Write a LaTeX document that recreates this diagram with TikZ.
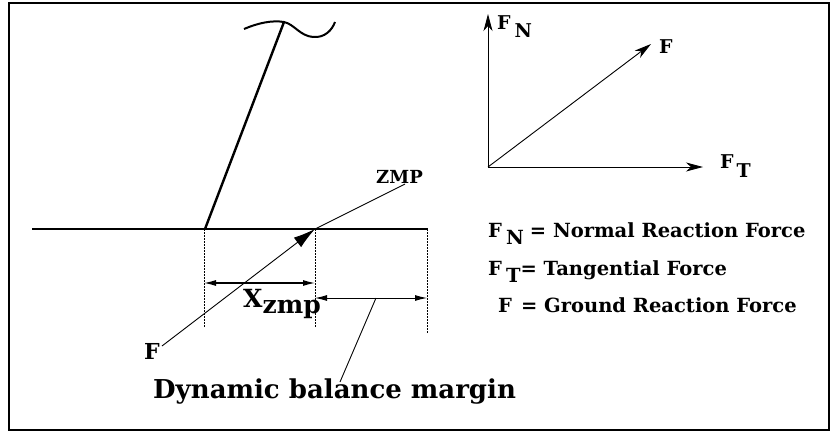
\documentclass[tikz,border=0pt]{standalone}
\usepackage{fontspec}
\setmainfont{DejaVu Serif}
\usetikzlibrary{arrows.meta}
\begin{document}
\begin{tikzpicture}[x=1pt,y=-1pt,
  thick line/.style={line width=2.4pt},
  thin line/.style={line width=0.9pt},
  dotline/.style={line width=0.9pt, dash pattern=on 1.5pt off 1.5pt},
  lbl/.style={inner sep=0pt, font=\bfseries},
  vec/.style={thin line, -{Stealth[length=17pt,width=9pt,inset=5pt]}},
  dim/.style={line width=1.2pt, {Latex[length=12pt,width=6pt]}-{Latex[length=12pt,width=6pt]}}]
\useasboundingbox (0,0) rectangle (832,436);
\draw[line width=2pt] (9,3) rectangle (829,430);
% ground and leg
\coordinate (gL) at (32,229);
\coordinate (gR) at (428,229);
\coordinate (heel) at (205,229);
\coordinate (hip) at (284,22);
\coordinate (zmp) at (315,229);
\draw[thick line] (gL) -- (gR);
\draw[thick line] (heel) -- (hip);
\draw[line width=2pt] (244,29) .. controls (258,23) and (272,20) .. (hip) .. controls (294,24) and (300,36) .. (313,37) .. controls (325,38) and (332,30) .. (335,22);
% dotted verticals
\coordinate (d1) at (204,327);
\coordinate (d2) at (315,327);
\coordinate (d3) at (427,333);
\draw[dotline] (204,229) -- (d1);
\draw[dotline] (zmp) -- (d2);
\draw[dotline] (427,229) -- (d3);
% dimension arrows
\coordinate (x1) at (204,283);
\coordinate (x2) at (315,283);
\draw[dim] (x1) -- (x2);
\coordinate (m1) at (315,298);
\coordinate (m2) at (427,298);
\coordinate (mm) at (376,298);
\draw[line width=0.9pt, {Latex[length=12pt,width=6pt]}-{Latex[length=12pt,width=6pt]}] (m1) -- (m2);
% force arrow
\node[lbl, font=\bfseries\fontsize{22}{22}\selectfont] (Flab) at (152,351) {F};
\coordinate (Fst) at (162,346);
\draw[thin line, -{Latex[length=22pt,width=12pt]}] (Fst) -- (zmp);
\node[lbl, font=\bfseries\fontsize{18}{18}\selectfont, anchor=base west] (zmplab) at (376,183) {ZMP};
\coordinate (zmpend) at (405,184);
\draw[thin line] (zmp) -- (zmpend);
% labels
\node[lbl, font=\bfseries\fontsize{25}{25}\selectfont, anchor=base west] (xz) at (243,307) {X\raisebox{-6pt}{zmp}};
\node[lbl, font=\bfseries\fontsize{26}{26}\selectfont, anchor=base west] (dbm) at (153,398) {Dynamic balance margin};
\coordinate (dbmtip) at (340,382);
\draw[thin line] (mm) -- (dbmtip);
% right diagram
\coordinate (O) at (488,167);
\coordinate (FNt) at (488,14);
\coordinate (Ft) at (651,44);
\coordinate (FTt) at (703,167);
\draw[vec] (O) -- (FNt);
\draw[vec] (O) -- (Ft);
\draw[vec] (O) -- (FTt);
\node[lbl, font=\bfseries\fontsize{19}{19}\selectfont, anchor=base west] (FN) at (497,30) {F\hspace{4pt}\raisebox{-8pt}{N}};
\node[lbl, font=\bfseries\fontsize{19}{19}\selectfont, anchor=base west] (Fr) at (659,53) {F};
\node[lbl, font=\bfseries\fontsize{19}{19}\selectfont, anchor=base west] (FT) at (720,168) {F\hspace{3pt}\raisebox{-9pt}{T}};
% legend
\node[lbl, font=\bfseries\fontsize{19.5}{19.5}\selectfont, anchor=base west] (l1) at (488,237) {F\hspace{4pt}\raisebox{-7pt}{N}\hspace{6pt}= Normal Reaction Force};
\node[lbl, font=\bfseries\fontsize{19.5}{19.5}\selectfont, anchor=base west] (l2) at (488,275) {F\hspace{4pt}\raisebox{-7pt}{T}= Tangential Force};
\node[lbl, font=\bfseries\fontsize{19.5}{19.5}\selectfont, anchor=base west] (l3) at (498,312) {F\hspace{9pt}= Ground Reaction Force};
\end{tikzpicture}
\end{document}
